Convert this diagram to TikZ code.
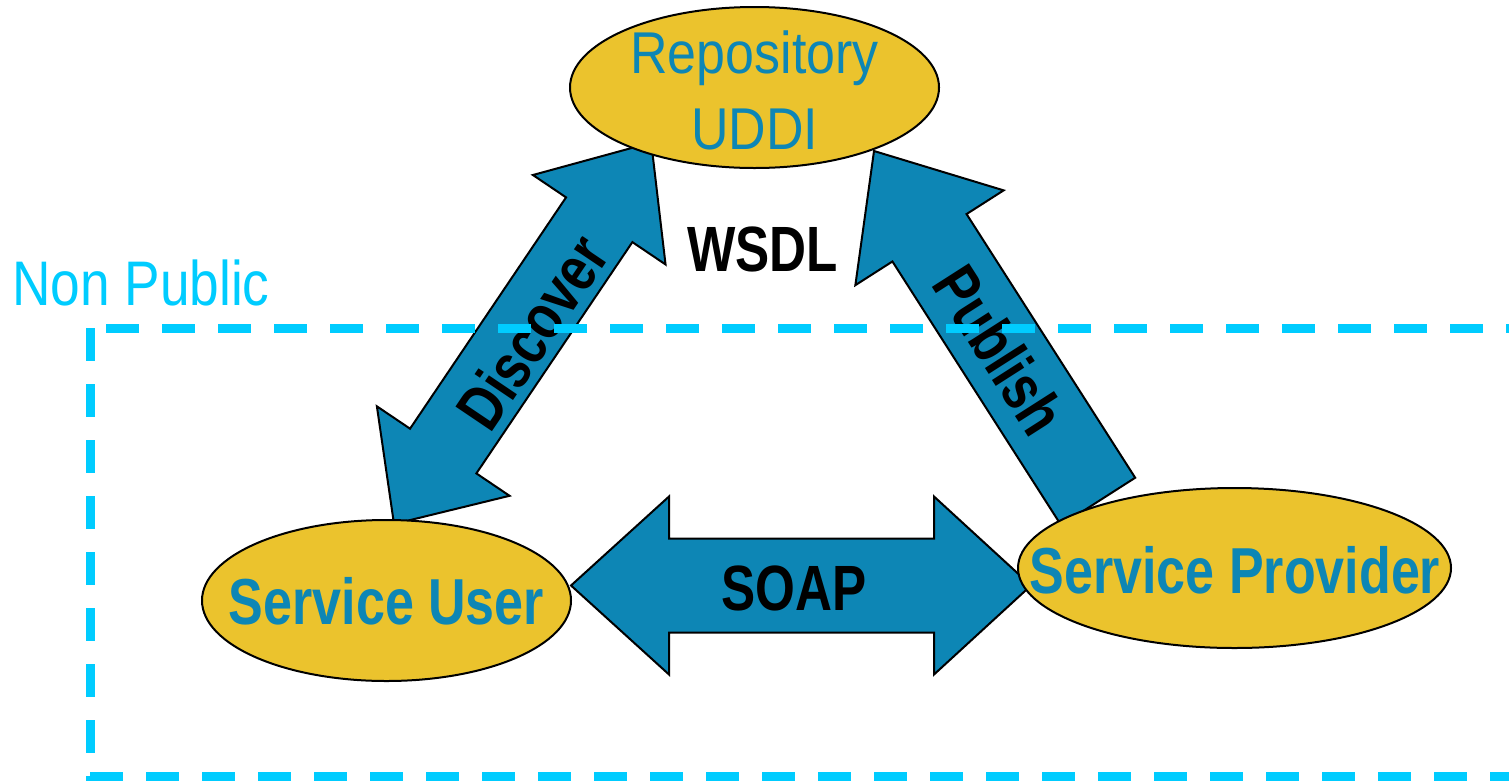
\documentclass[tikz,border=0pt]{standalone}
\usepackage{fontspec}
\setmainfont{Liberation Sans}
\newfontfamily\regfont{Liberation Sans}[FakeStretch=0.88]
\newfontfamily\npfont{Liberation Sans}[FakeStretch=0.845]
\newfontfamily\labfont{Liberation Sans}[FakeStretch=0.8]
\usetikzlibrary{shapes.geometric}
\definecolor{gold}{RGB}{235,195,45}
\definecolor{arrowblue}{RGB}{13,134,181}
\definecolor{npcyan}{RGB}{0,204,255}
\begin{document}
\begin{tikzpicture}[x=1pt,y=-1pt,
  goldell/.style={ellipse, draw=black, line width=2pt, fill=gold, inner sep=0pt},
  blockarrow/.style={draw=black, line width=2pt, fill=arrowblue, line join=miter},
  ellabel/.style={text=arrowblue, inner sep=0pt, font=\labfont\bfseries\fontsize{65}{70}\selectfont},
  replabel/.style={text=arrowblue, inner sep=0pt, align=center, font=\regfont\fontsize{59}{76}\selectfont},
  arrlabel/.style={text=black, inner sep=0pt, font=\labfont\bfseries\fontsize{64}{70}\selectfont},
  boundary/.style={draw=npcyan, line width=9pt, dash pattern=on 33pt off 23pt},
]
\useasboundingbox (0,0) rectangle (1509,780);

% block arrows
\coordinate (dlow) at (394,524);
\coordinate (ptip) at (874,151);
\coordinate (sleft) at (571,585.5);

\begin{scope}[shift={(dlow)}, rotate=56]
  \draw[blockarrow] (0,0) -- (88,80) -- (88,40) -- (367,40) -- (367,80) -- (460,0)
    -- (367,-80) -- (367,-40) -- (88,-40) -- (88,-80) -- cycle;
\end{scope}
\begin{scope}[shift={(ptip)}, rotate=-57.4]
  \draw[blockarrow] (0,0) -- (103,88) -- (103,44) -- (416,44) -- (416,-44)
    -- (103,-44) -- (103,-88) -- cycle;
\end{scope}
\begin{scope}[shift={(sleft)}]
  \draw[blockarrow] (0,0) -- (98,-89) -- (98,-47) -- (363,-47) -- (363,-89) -- (460,0)
    -- (363,89) -- (363,47) -- (98,47) -- (98,89) -- cycle;
\end{scope}

\node[arrlabel, rotate=56] (discover) at (532,332) {Discover};
\node[arrlabel, rotate=-57.4] (publish) at (1000,350) {Publish};
\node[arrlabel] (soap) at (794,588) {SOAP};
\node[arrlabel] (wsdl) at (762.5,249.5) {WSDL};

% ellipses
\node[goldell, minimum width=369, minimum height=161] (repo) at (754.5,87.5) {};
\node[replabel] (repotext) at (754.5,90.5) {Repository\\UDDI};
\node[goldell, minimum width=369, minimum height=161] (user) at (386.5,600.5) {};
\node[ellabel] (usertext) at (386.5,601.5) {Service User};
\node[goldell, minimum width=433, minimum height=160] (prov) at (1234.5,568) {};
\node[ellabel] (provtext) at (1235,570.5) {Service Provider};

% non public zone
\node[anchor=base west, inner sep=0pt, text=npcyan, font=\npfont\fontsize{63}{70}\selectfont] (np) at (12,305) {Non Public};
\begin{scope}
  \clip (0,0) rectangle (1509,780);
  \draw[boundary] (106,328) -- (1600,328);
  \draw[boundary] (90.5,328) -- (90.5,800);
  \draw[boundary] (90,776) -- (1600,776);
\end{scope}
\end{tikzpicture}
\end{document}
